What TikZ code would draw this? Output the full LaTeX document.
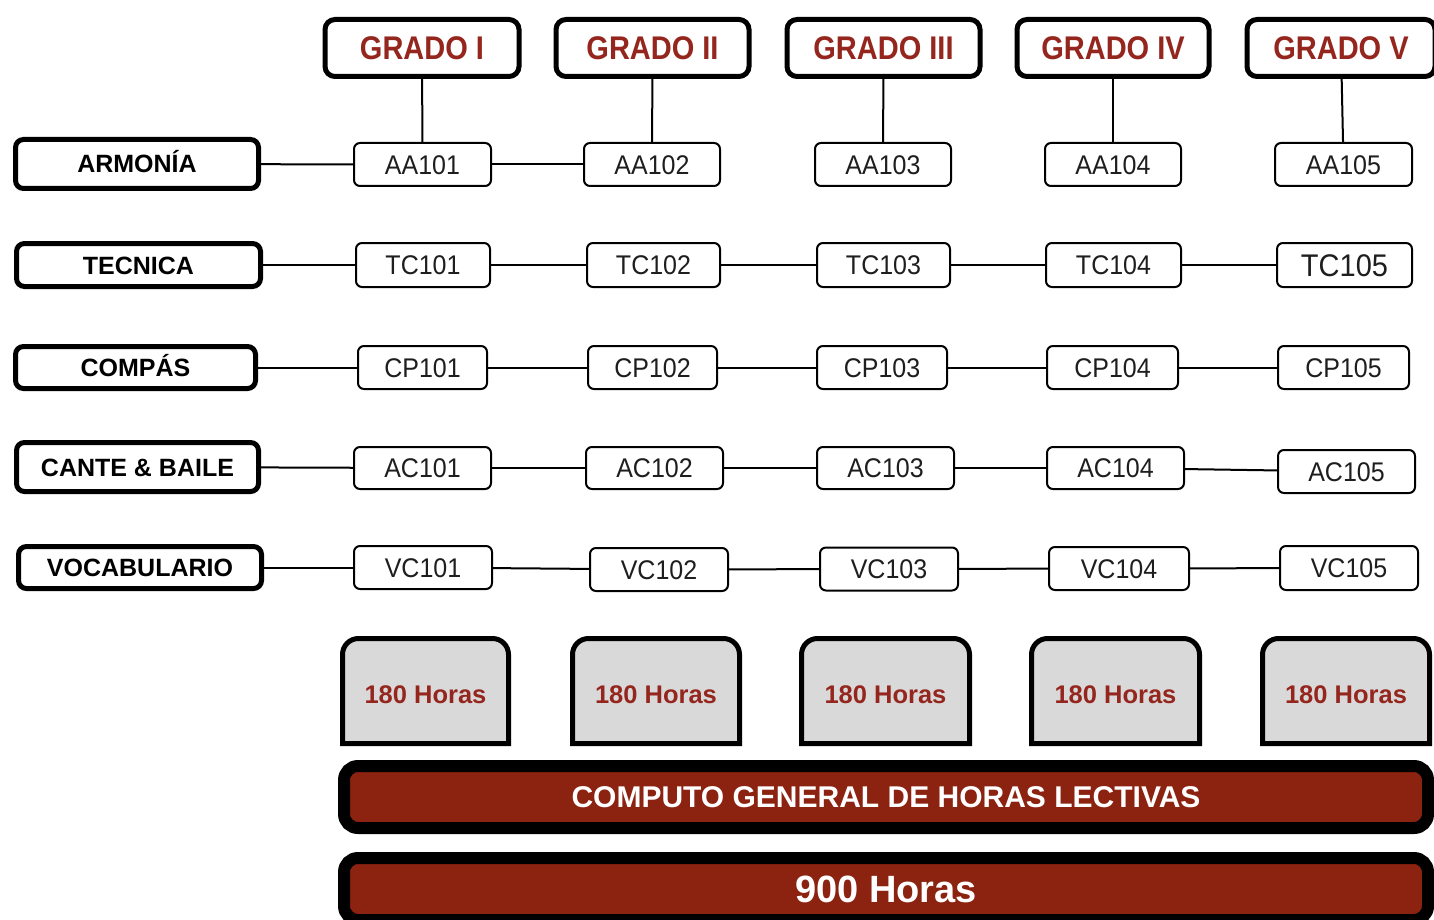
\documentclass[tikz,border=0pt]{standalone}
\usepackage{fontspec}
\setmainfont{Liberation Sans}
\definecolor{gradored}{RGB}{148,38,30}
\definecolor{barred}{RGB}{140,34,16}
\definecolor{horafill}{RGB}{217,217,217}
\definecolor{txtgray}{RGB}{30,30,30}
\newcommand\tallg[1]{\scalebox{1}[1.13]{#1}}
\newcommand\tallc[1]{\scalebox{1}[1.08]{#1}}
\begin{document}
\begin{tikzpicture}[x=1pt,y=-1pt,
  gradobox/.style={draw=black, line width=5pt, rounded corners=10pt, fill=white, minimum height=57pt, inner sep=0pt, text=gradored, font=\fontsize{29}{29}\selectfont\bfseries, text height=23.5pt, text depth=0pt},
  labelbox/.style={draw=black, line width=5pt, rounded corners=8pt, fill=white, inner sep=0pt, font=\fontsize{25}{25}\selectfont\bfseries, text height=18pt, text depth=0pt},
  codebox/.style={draw=black, line width=2pt, rounded corners=6pt, fill=white, inner sep=0pt, text=txtgray, font=\fontsize{25}{25}\selectfont, text height=19.4pt, text depth=0pt},
  bigcode/.style={codebox, font=\fontsize{29}{29}\selectfont, text height=22.4pt},
  link/.style={draw=black, line width=2pt},
  horabox/.style={draw=black, line width=5pt, fill=horafill},
  horatext/.style={inner sep=0pt, text=gradored, font=\fontsize{25.5}{25.5}\selectfont\bfseries, text height=18pt, text depth=0pt},
  bar/.style={draw=black, line width=12pt, rounded corners=14pt, fill=barred, inner sep=0pt, text=white, font=\fontsize{30}{30}\selectfont\bfseries, text height=21.5pt, text depth=0pt}
]
\useasboundingbox (0,0) rectangle (1434,920);
\clip (0,0) rectangle (1434,920);
\fill[white] (0,0) rectangle (1434,920);

% Grado headers
\node[gradobox, minimum width=194pt] (G1) at (422,48) {\tallg{GRADO I}};
\node[gradobox, minimum width=193pt] (G2) at (652.5,48) {\tallg{GRADO II}};
\node[gradobox, minimum width=193pt] (G3) at (883.5,48) {\tallg{GRADO III}};
\node[gradobox, minimum width=192pt] (G4) at (1113,48) {\tallg{GRADO IV}};
\node[gradobox, minimum width=188pt] (G5) at (1341,48) {\tallg{GRADO V}};

% Row labels
\node[labelbox, minimum width=243pt, minimum height=49pt] (LA) at (137,164) {ARMONÍA};
\node[labelbox, minimum width=244pt, minimum height=43pt] (LT) at (138.5,265) {TECNICA};
\node[labelbox, minimum width=240pt, minimum height=42pt] (LC) at (135.5,367.5) {COMPÁS};
\node[labelbox, minimum width=242pt, minimum height=49pt] (LB) at (137.5,467) {CANTE \& BAILE};
\node[labelbox, minimum width=243pt, minimum height=42pt] (LV) at (140,567.5) {VOCABULARIO};

% Row 1
\node[codebox, minimum width=137pt, minimum height=43pt] (AA101) at (422.5,164.5) {\tallc{AA101}};
\node[codebox, minimum width=136pt, minimum height=43pt] (AA102) at (652,164.5) {\tallc{AA102}};
\node[codebox, minimum width=136pt, minimum height=43pt] (AA103) at (883,164.5) {\tallc{AA103}};
\node[codebox, minimum width=136pt, minimum height=43pt] (AA104) at (1113,164.5) {\tallc{AA104}};
\node[codebox, minimum width=137pt, minimum height=43pt] (AA105) at (1343.5,164.5) {\tallc{AA105}};
% Row 2
\node[codebox, minimum width=134pt, minimum height=44pt] (TC101) at (423,265) {\tallc{TC101}};
\node[codebox, minimum width=133pt, minimum height=44pt] (TC102) at (653.5,265) {\tallc{TC102}};
\node[codebox, minimum width=133pt, minimum height=44pt] (TC103) at (883.5,265) {\tallc{TC103}};
\node[codebox, minimum width=135pt, minimum height=44pt] (TC104) at (1113.5,265) {\tallc{TC104}};
\node[bigcode, minimum width=135pt, minimum height=44pt] (TC105) at (1344.5,265) {\tallc{TC105}};
% Row 3
\node[codebox, minimum width=129pt, minimum height=43pt] (CP101) at (422.5,367.5) {\tallc{CP101}};
\node[codebox, minimum width=129pt, minimum height=43pt] (CP102) at (652.5,367.5) {\tallc{CP102}};
\node[codebox, minimum width=130pt, minimum height=43pt] (CP103) at (882,367.5) {\tallc{CP103}};
\node[codebox, minimum width=131pt, minimum height=43pt] (CP104) at (1112.5,367.5) {\tallc{CP104}};
\node[codebox, minimum width=131pt, minimum height=43pt] (CP105) at (1343.5,367.5) {\tallc{CP105}};
% Row 4
\node[codebox, minimum width=137pt, minimum height=42pt] (AC101) at (422.5,468) {\tallc{AC101}};
\node[codebox, minimum width=137pt, minimum height=42pt] (AC102) at (654.5,468) {\tallc{AC102}};
\node[codebox, minimum width=137pt, minimum height=42pt] (AC103) at (885.5,468) {\tallc{AC103}};
\node[codebox, minimum width=137pt, minimum height=42pt] (AC104) at (1115.5,468) {\tallc{AC104}};
\node[codebox, minimum width=137pt, minimum height=43pt] (AC105) at (1346.5,471.5) {\tallc{AC105}};
% Row 5
\node[codebox, minimum width=138pt, minimum height=43pt] (VC101) at (423,567.5) {\tallc{VC101}};
\node[codebox, minimum width=138pt, minimum height=43pt] (VC102) at (659,569.5) {\tallc{VC102}};
\node[codebox, minimum width=138pt, minimum height=43pt] (VC103) at (889,569) {\tallc{VC103}};
\node[codebox, minimum width=140pt, minimum height=43pt] (VC104) at (1119,568.5) {\tallc{VC104}};
\node[codebox, minimum width=138pt, minimum height=44pt] (VC105) at (1349,568) {\tallc{VC105}};

% Vertical connectors
\draw[link] (G1) -- (AA101);
\draw[link] (G2) -- (AA102);
\draw[link] (G3) -- (AA103);
\draw[link] (G4) -- (AA104);
\draw[link] (G5) -- (AA105);

% Horizontal connectors
\draw[link] (LA) -- (AA101);
\draw[link] (AA101) -- (AA102);
\draw[link] (LT) -- (TC101);
\draw[link] (TC101) -- (TC102);
\draw[link] (TC102) -- (TC103);
\draw[link] (TC103) -- (TC104);
\draw[link] (TC104) -- (TC105);
\draw[link] (LC) -- (CP101);
\draw[link] (CP101) -- (CP102);
\draw[link] (CP102) -- (CP103);
\draw[link] (CP103) -- (CP104);
\draw[link] (CP104) -- (CP105);
\draw[link] (LB) -- (AC101);
\draw[link] (AC101) -- (AC102);
\draw[link] (AC102) -- (AC103);
\draw[link] (AC103) -- (AC104);
\draw[link] (AC104) -- (AC105);
\draw[link] (LV) -- (VC101);
\draw[link] (VC101) -- (VC102);
\draw[link] (VC102) -- (VC103);
\draw[link] (VC103) -- (VC104);
\draw[link] (VC104) -- (VC105);

% Hour boxes
\foreach \a/\b/\n in {342.5/508.5/H1, 572.5/739.5/H2, 801.5/969.5/H3, 1031.5/1199.5/H4, 1262.5/1429.5/H5}{
  \draw[horabox] (\a,743.5) -- (\a,654.5) arc[start angle=180,end angle=90,radius=16pt] -- ({\b-16},638.5) arc[start angle=90,end angle=0,radius=16pt] -- (\b,743.5) -- cycle;
  \node[horatext] (\n) at ({(\a+\b)/2},694) {180 Horas};
}

% Bars
\node[bar, minimum width=1084pt, minimum height=62pt] (comp) at (886,797) {COMPUTO GENERAL DE HORAS LECTIVAS};
\node[bar, minimum width=1084pt, minimum height=62pt, font=\fontsize{38}{38}\selectfont\bfseries, text height=27pt] (total) at (886,889) {900 Horas};
\end{tikzpicture}
\end{document}
